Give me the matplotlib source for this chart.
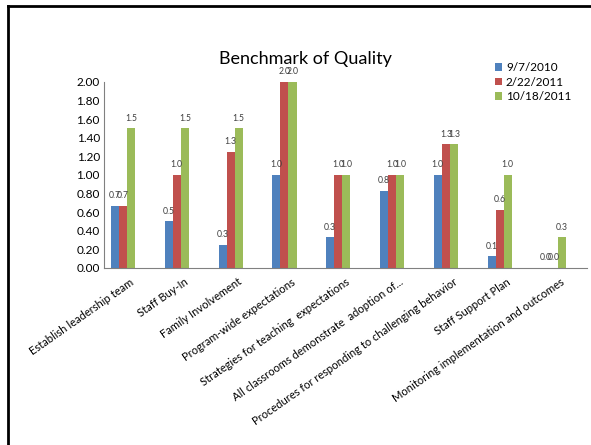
import matplotlib
matplotlib.use("Agg")
from matplotlib import pyplot as plt
from matplotlib import transforms
from matplotlib.lines import Line2D
import numpy as np

plt.rcParams['font.family'] = ['Lato', 'DejaVu Sans']

categories = ['Establish leadership team', 'Staff Buy-In', 'Family Involvement',
              'Program-wide expectations', 'Strategies for teaching  expectations',
              'All classrooms demonstrate  adoption of...',
              'Procedures for responding to challenging behavior',
              'Staff Support Plan', 'Monitoring implementation and outcomes']
dates = ['9/7/2010', '2/22/2011', '10/18/2011']
s2010_09 = [0.67, 0.50, 0.25, 1.00, 0.33, 0.83, 1.00, 0.125, 0.00]
s2011_02 = [0.67, 1.00, 1.25, 2.00, 1.00, 1.00, 1.33, 0.625, 0.00]
s2011_10 = [1.50, 1.50, 1.50, 2.00, 1.00, 1.00, 1.33, 1.00, 0.33]
colors = ['#4F81BD', '#C0504D', '#9BBB59']
yticks = np.arange(0, 2.01, 0.2)

fig = plt.figure(figsize=(5.91, 4.45), dpi=100)
ax = fig.add_axes([0.176, 0.398, 0.817, 0.418])

x = np.arange(len(categories))
w = 0.15
for i, (vals, lab, c) in enumerate(zip([s2010_09, s2011_02, s2011_10], dates, colors)):
    pos = x + (i - 1) * w
    ax.bar(pos, vals, width=w, color=c, label=lab, zorder=2)
    for px, v in zip(pos, vals):
        # Excel-style half-up rounding for the value labels
        ax.annotate(f"{v + 1e-9:.1f}", (px, v), xytext=(0, 4), textcoords='offset points',
                    ha='center', va='bottom', fontsize=6.2, color='#404040')

ax.set_xlim(-0.353, 8.62)
ax.set_ylim(0, 2.0)
ax.set_yticks(yticks)
ax.set_yticklabels([f"{t:.2f}" for t in yticks], fontsize=8.5)
ax.set_xticks(x)
ax.set_xticklabels(categories, rotation=35, ha='right', va='top',
                   rotation_mode='anchor', fontsize=8)
ax.tick_params(axis='y', length=0, pad=3)
ax.tick_params(axis='x', length=0, pad=6)
# nudge category labels to the right of their group
shift = transforms.ScaledTranslation(5 / 72, 0, fig.dpi_scale_trans)
for t in ax.get_xticklabels():
    t.set_transform(t.get_transform() + shift)
for side in ['top', 'right']:
    ax.spines[side].set_visible(False)
for side in ['left', 'bottom']:
    ax.spines[side].set_color('#808080')
    ax.spines[side].set_linewidth(0.8)

fig.text(0.516, 0.867, 'Benchmark of Quality', ha='center', va='center', fontsize=13)

fig.legend(loc='upper left', bbox_to_anchor=(0.838, 0.86), frameon=False, fontsize=8.5,
           handlelength=0.6, handleheight=0.6, handletextpad=0.3, labelspacing=0.3,
           borderaxespad=0, borderpad=0)

# slide frame on the left and top
fig.add_artist(Line2D([8 / 591, 8 / 591], [0, 1 - 6 / 445], color='black', lw=2,
                      transform=fig.transFigure))
fig.add_artist(Line2D([8 / 591, 1], [1 - 6 / 445, 1 - 6 / 445], color='black', lw=2,
                      transform=fig.transFigure))

fig.savefig('out.png', dpi=100)
